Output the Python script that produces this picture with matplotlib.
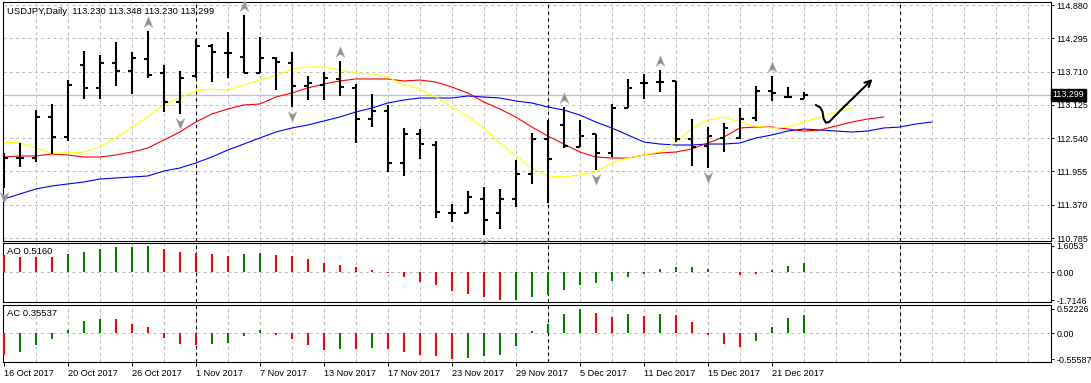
import matplotlib
matplotlib.use("Agg")
import matplotlib.pyplot as plt
from matplotlib.path import Path
from matplotlib.transforms import ScaledTranslation, blended_transform_factory

plt.rcParams['font.family'] = ['Liberation Sans', 'DejaVu Sans']
plt.rcParams['font.size'] = 6.6

# USDJPY daily bars (16 Oct 2017 -> 25 Dec 2017)
opens = [111.893, 112.191, 112.191, 112.912, 112.561, 113.826, 113.422, 113.861, 113.720, 113.931,
         113.685, 113.176, 113.632, 114.160, 114.037, 113.966, 113.685, 113.949, 113.861, 113.457,
         113.474, 113.580, 113.422, 112.877, 113.017, 112.104, 112.613, 112.420, 111.225, 111.225,
         111.471, 111.225, 111.471, 111.910, 112.525, 112.771, 112.385, 112.613, 112.279, 113.070,
         113.510, 113.527, 113.545, 112.525, 112.402, 112.543, 112.543, 112.894, 113.369, 113.263,
         113.230]
highs = [112.279, 112.455, 113.035, 113.140, 113.562, 114.072, 114.002, 114.230, 114.054, 114.423,
         113.826, 113.720, 114.283, 114.195, 114.406, 114.704, 114.318, 113.966, 114.054, 113.632,
         113.703, 113.896, 113.492, 113.316, 113.123, 112.719, 112.701, 112.490, 111.383, 111.612,
         111.682, 111.647, 112.156, 112.631, 112.859, 113.088, 112.859, 112.613, 113.140, 113.580,
         113.668, 113.738, 113.545, 112.877, 112.736, 112.807, 113.070, 113.457, 113.632, 113.439,
         113.348]
lows = [111.664, 112.033, 112.121, 112.262, 112.490, 113.228, 113.228, 113.457, 113.316, 113.597,
        113.000, 112.965, 113.597, 113.527, 113.597, 113.685, 113.685, 113.386, 113.088, 113.211,
        113.211, 113.281, 112.455, 112.736, 111.945, 111.875, 112.174, 111.137, 111.067, 111.225,
        110.838, 110.944, 111.331, 111.735, 111.401, 112.367, 112.385, 111.981, 112.209, 113.070,
        113.228, 113.351, 112.473, 112.051, 112.016, 112.297, 112.525, 112.842, 113.193, 113.246,
        113.230]
closes = [112.191, 112.191, 112.912, 112.561, 113.474, 113.422, 113.861, 113.720, 113.949, 113.650,
          113.176, 113.597, 114.160, 114.054, 114.037, 113.685, 113.949, 113.878, 113.457, 113.510,
          113.597, 113.439, 112.877, 113.017, 112.104, 112.613, 112.437, 111.243, 111.225, 111.506,
          111.102, 111.471, 111.910, 112.525, 112.174, 112.402, 112.578, 112.279, 113.070, 113.422,
          113.510, 113.527, 112.525, 112.385, 112.578, 112.719, 112.877, 113.369, 113.334, 113.263,
          113.299]

# moving average lines (they run a few bars past the last bar)
ma_yellow = [112.473, 112.455, 112.367, 112.279, 112.279, 112.297, 112.385, 112.543, 112.736, 112.912,
             113.123, 113.246, 113.369, 113.404, 113.386, 113.474, 113.562, 113.632, 113.755, 113.791,
             113.791, 113.738, 113.685, 113.668, 113.615, 113.474, 113.404, 113.263, 113.088, 112.930,
             112.719, 112.455, 112.227, 112.016, 111.875, 111.858, 111.893, 111.945, 112.104, 112.191,
             112.244, 112.297, 112.473, 112.701, 112.859, 112.912, 112.824, 112.754, 112.719, 112.736,
             112.824, 112.912, 113.000, 113.070]
ma_red = [112.209, 112.227, 112.227, 112.262, 112.244, 112.209, 112.209, 112.244, 112.297, 112.367,
          112.508, 112.648, 112.824, 112.965, 113.053, 113.123, 113.140, 113.263, 113.334, 113.422,
          113.492, 113.545, 113.580, 113.580, 113.580, 113.545, 113.562, 113.527, 113.439, 113.334,
          113.176, 113.053, 112.912, 112.736, 112.578, 112.437, 112.297, 112.209, 112.191, 112.191,
          112.244, 112.279, 112.297, 112.350, 112.455, 112.561, 112.719, 112.736, 112.736, 112.701,
          112.666, 112.683, 112.754, 112.824, 112.877, 112.912]
ma_blue = [111.471, 111.559, 111.647, 111.700, 111.735, 111.770, 111.822, 111.840, 111.858, 111.875,
           111.963, 112.016, 112.104, 112.209, 112.332, 112.437, 112.543, 112.648, 112.719, 112.771,
           112.842, 112.912, 113.000, 113.070, 113.158, 113.211, 113.246, 113.246, 113.246, 113.281,
           113.263, 113.246, 113.193, 113.158, 113.088, 113.035, 112.947, 112.824, 112.719, 112.596,
           112.473, 112.437, 112.420, 112.420, 112.437, 112.437, 112.455, 112.543, 112.596, 112.666,
           112.701, 112.683, 112.666, 112.648, 112.666, 112.719, 112.736, 112.789, 112.824]

fractal_up = [9, 15, 21, 35, 41, 48]
fractal_down = [0, 11, 18, 30, 37, 44]

ao = [1.06, 0.95, 0.95, 0.95, 1.10, 1.24, 1.44, 1.56, 1.56, 1.6053,
      1.44, 1.24, 1.20, 1.12, 1.02, 1.12, 1.18, 1.06, 1.00, 0.81,
      0.59, 0.47, 0.35, 0.14, -0.06, -0.26, -0.57, -0.77, -1.14, -1.32,
      -1.50, -1.7146, -1.70, -1.48, -1.38, -1.08, -0.77, -0.63, -0.51, -0.26,
      -0.10, 0.18, 0.35, 0.35, 0.20, 0.03, -0.14, -0.08, 0.14, 0.41,
      0.59]
ao_col = "rrrrggggggrrrrrggrrrrrrrrrrrrrrrgggggggggggggrrrgggg"[:51]
ac = [-0.46, -0.39, -0.25, -0.12, 0.07, 0.26, 0.31, 0.31, 0.20, 0.13,
      -0.09, -0.23, -0.25, -0.23, -0.20, -0.06, 0.07, -0.04, -0.13, -0.25,
      -0.36, -0.34, -0.34, -0.31, -0.34, -0.39, -0.46, -0.49, -0.556, -0.52,
      -0.49, -0.46, -0.27, 0.05, 0.20, 0.41, 0.522, 0.44, 0.34, 0.41,
      0.37, 0.41, 0.39, 0.25, -0.04, -0.23, -0.29, -0.16, 0.13, 0.32,
      0.39]
ac_col = "rggggggrrrrrrggggrrrrgrgrrrrrggggggggrrgrgrrrrrgggg"

price_ticks = [114.880, 114.295, 113.710, 113.125, 112.540, 111.955, 111.370, 110.785]
ao_ticks = [1.6053, 0.0, -1.7146]
ao_ticklabels = ["1.6053", "0.00", "-1.7146"]
ac_ticks = [0.52226, 0.0, -0.55587]
ac_ticklabels = ["0.52226", "0.00", "-0.55587"]
date_labels = ["16 Oct 2017", "20 Oct 2017", "26 Oct 2017", "1 Nov 2017", "7 Nov 2017",
               "13 Nov 2017", "17 Nov 2017", "23 Nov 2017", "29 Nov 2017", "5 Dec 2017",
               "11 Dec 2017", "15 Dec 2017", "21 Dec 2017"]
month_starts = [12, 34, 56]
last_price = 113.299

# hand drawn arrow (bar index, price)
arrow_x = [50.75, 51.02, 51.17, 51.23, 51.38, 51.58, 52.31]
arrow_y = [113.123, 113.082, 113.005, 112.889, 112.812, 112.824, 113.035]

W, H = 1091, 383
fig = plt.figure(figsize=(W / 100, H / 100), dpi=100)
fig.patch.set_facecolor('white')


def px_axes(top, bottom):
    return fig.add_axes([3 / W, 1 - bottom / H, 1048 / W, (bottom - top) / H])


ax = px_axes(2, 241)
ax_ao = px_axes(243, 302)
ax_ac = px_axes(305, 362)

GRID = dict(color='#c0c0c0', lw=0.75, ls=(0, (3, 3)), zorder=0)
G_COL = {'g': '#008000', 'r': '#ff0000'}

for a in (ax, ax_ao, ax_ac):
    a.set_xlim(-0.05, 65.45)
    for x in range(2, 65, 2):
        a.axvline(x, **GRID)
    for x in month_starts:
        a.axvline(x, color='black', lw=0.8, ls=(0, (3, 3)), zorder=1)
    for s in a.spines.values():
        s.set_color('black')
        s.set_linewidth(0.8)
    a.yaxis.tick_right()
    a.tick_params(axis='y', direction='out', length=2.5, width=0.7, pad=1.5, labelsize=6.4)
    a.tick_params(axis='x', bottom=False, labelbottom=False)

# main panel
ax.set_ylim(110.733, 114.933)
ax.set_yticks(price_ticks)
ax.set_yticklabels(["%.3f" % p for p in price_ticks])
for p in price_ticks:
    ax.axhline(p, **GRID)
ax.axhline(last_price, color='#c0c0c0', lw=0.9, zorder=1)

ax.plot(range(len(ma_blue)), ma_blue, color='#0000ff', lw=0.8, zorder=2)
ax.plot(range(len(ma_red)), ma_red, color='#ff0000', lw=0.8, zorder=2)
ax.plot(range(len(ma_yellow)), ma_yellow, color='#ffff00', lw=0.8, zorder=2)

idx = list(range(len(closes)))
ax.vlines(idx, lows, highs, color='black', lw=1.5, zorder=3)
ax.hlines(opens, [i - 0.26 for i in idx], idx, color='black', lw=1.5, zorder=3)
ax.hlines(closes, idx, [i + 0.26 for i in idx], color='black', lw=1.5, zorder=3)

up_path = Path([(0, 1), (0.75, -0.85), (0, -0.3), (-0.75, -0.85), (0, 1)],
               [Path.MOVETO, Path.LINETO, Path.LINETO, Path.LINETO, Path.CLOSEPOLY])
down_path = Path([(0, -1), (0.75, 0.85), (0, 0.3), (-0.75, 0.85), (0, -1)],
                 [Path.MOVETO, Path.LINETO, Path.LINETO, Path.LINETO, Path.CLOSEPOLY])
up_tr = ax.transData + ScaledTranslation(0, 0.09, fig.dpi_scale_trans)
dn_tr = ax.transData + ScaledTranslation(0, -0.09, fig.dpi_scale_trans)
ax.plot(fractal_up, [highs[i] for i in fractal_up], ls='none', marker=up_path, ms=8,
        mfc='#8c8c8c', mec='#b4b4b4', mew=0.6, transform=up_tr, zorder=4, clip_on=False)
ax.plot(fractal_down, [lows[i] for i in fractal_down], ls='none', marker=down_path, ms=8,
        mfc='#8c8c8c', mec='#b4b4b4', mew=0.6, transform=dn_tr, zorder=4, clip_on=False)

ax.plot(arrow_x, arrow_y, color='black', lw=1.5, solid_capstyle='round', zorder=5)
ax.annotate('', xy=(54.3, 113.58), xytext=(arrow_x[-1], arrow_y[-1]),
            arrowprops=dict(arrowstyle='->', lw=1.5, color='black', mutation_scale=11,
                            shrinkA=0, shrinkB=0), zorder=5)

tr = blended_transform_factory(ax.transAxes, ax.transData)
ax.text(1.0015, last_price, "113.299", transform=tr, color='white', ha='left', va='center',
        fontsize=6.4, zorder=10, clip_on=False,
        bbox=dict(boxstyle='square,pad=0.2', fc='black', ec='black'))

fig.text(7 / W, 1 - 11 / H, "USDJPY,Daily  113.230 113.348 113.230 113.299",
         ha='left', va='center', fontsize=6.8)

# AO panel
ax_ao.set_ylim(-1.81, 1.785)
ax_ao.axhline(0, **GRID)
ax_ao.vlines(idx, 0, ao, colors=[G_COL[c] for c in ao_col], lw=1.5, zorder=3)
ax_ao.set_yticks(ao_ticks)
ax_ao.set_yticklabels(ao_ticklabels)
fig.text(7 / W, 1 - 252 / H, "AO 0.5160", ha='left', va='center', fontsize=6.8)

# AC panel
ax_ac.set_ylim(-0.614, 0.606)
ax_ac.axhline(0, **GRID)
ax_ac.vlines(idx, 0, ac, colors=[G_COL[c] for c in ac_col], lw=1.5, zorder=3)
ax_ac.set_yticks(ac_ticks)
ax_ac.set_yticklabels(ac_ticklabels)
fig.text(7 / W, 1 - 314 / H, "AC 0.35537", ha='left', va='center', fontsize=6.8)

ax_ac.tick_params(axis='x', bottom=True, labelbottom=True, direction='out', length=3,
                  width=0.7, pad=2, labelsize=6.6)
ax_ac.set_xticks(list(range(0, 4 * len(date_labels), 4)))
ax_ac.set_xticklabels(date_labels)
for lbl in ax_ac.get_xticklabels():
    lbl.set_horizontalalignment('left')

fig.savefig("out.png", dpi=100)
